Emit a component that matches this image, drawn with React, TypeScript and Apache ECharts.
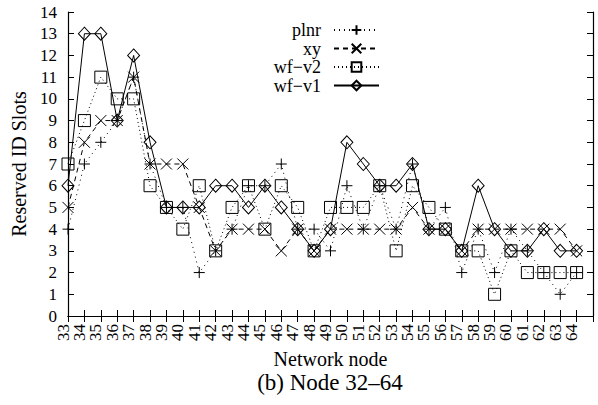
import React, { useEffect, useRef } from "react";
import * as echarts from "echarts";

const nodes = [33, 34, 35, 36, 37, 38, 39, 40, 41, 42, 43, 44, 45, 46, 47, 48, 49, 50, 51, 52, 53, 54, 55, 56, 57, 58, 59, 60, 61, 62, 63, 64];
const plnr = [4, 7, 8, 9, 11, 7, 5, 5, 2, 3, 4, 6, 6, 7, 4, 4, 3, 6, 4, 6, 4, 7, 4, 5, 2, 4, 2, 4, 3, 2, 1, 2];
const xy = [5, 8, 9, 9, 11, 7, 7, 7, 5, 3, 4, 4, 4, 3, 4, 3, 4, 4, 4, 4, 4, 5, 4, 4, 3, 4, 4, 4, 4, 4, 4, 3];
const wfv2 = [7, 9, 11, 10, 10, 6, 5, 4, 6, 3, 5, 6, 4, 6, 5, 3, 5, 5, 5, 6, 3, 6, 5, 4, 3, 3, 1, 3, 2, 2, 2, 2];
const wfv1 = [6, 13, 13, 9, 12, 8, 5, 5, 5, 6, 6, 5, 6, 5, 4, 3, 4, 8, 7, 6, 6, 7, 4, 4, 3, 6, 4, 3, 3, 4, 3, 3];
const seriesNames = ["plnr", "xy", "wf\u2212v2", "wf\u2212v1"];

const FONT = "'Liberation Serif', 'Times New Roman', serif";
const PLUS = "path://M0,5L10,5M5,0L5,10";
const CROSS = "path://M0,0L10,10M10,0L0,10";

export default function App() {
  const ref = useRef<HTMLDivElement>(null);
  useEffect(() => {
    if (!ref.current) return;
    const chart = echarts.init(ref.current, undefined, { renderer: "svg" });
    // x range runs one step past the last node (gnuplot xrange 33..65)
    const categories = [...nodes.map(String), ""];
    const mk = (name: string, vals: number[], symbol: string, size: number | number[], dash: any) => ({
      name,
      type: "line",
      xAxisIndex: 0,
      yAxisIndex: 0,
      data: vals,
      symbol,
      symbolSize: size,
      showAllSymbol: true,
      lineStyle: { color: "#000", width: 1, type: dash },
      itemStyle: { color: "transparent", borderColor: "#000", borderWidth: 1 },
      emphasis: { disabled: true },
      z: 2,
    });
    const axisCommon = {
      axisLine: { show: true, lineStyle: { color: "#000", width: 1.2 } },
      axisTick: { show: true, inside: true, length: 6, interval: 0, lineStyle: { color: "#000" } },
      splitLine: { show: false },
    };
    chart.setOption({
      animation: false,
      backgroundColor: "#fff",
      textStyle: { fontFamily: FONT, color: "#000" },
      title: {
        text: "(b) Node 32\u201364",
        left: 330,
        top: 370,
        textAlign: "center",
        padding: 0,
        textStyle: { fontFamily: FONT, fontSize: 23, lineHeight: 24, fontWeight: "normal", color: "#000" },
      },
      grid: { left: 68, right: 5, top: 12, bottom: 89 },
      legend: {
        orient: "vertical",
        right: 213,
        top: 16,
        align: "right",
        itemWidth: 45,
        itemHeight: 12,
        itemGap: 0.5,
        data: seriesNames,
        textStyle: { fontFamily: FONT, fontSize: 18, lineHeight: 15, color: "#000", padding: [0, 8, 0, 0] },
      },
      xAxis: [
        {
          type: "category",
          data: categories,
          boundaryGap: false,
          ...axisCommon,
          axisLabel: {
            interval: 0,
            rotate: 90,
            fontFamily: FONT,
            fontSize: 17,
            lineHeight: 10,
            verticalAlign: "bottom",
            color: "#000",
            margin: 8,
          },
          name: "Network node",
          nameLocation: "middle",
          nameGap: 31,
          nameTextStyle: { fontFamily: FONT, fontSize: 20, lineHeight: 20, color: "#000" },
        },
        {
          type: "category",
          data: categories,
          boundaryGap: false,
          position: "top",
          ...axisCommon,
          axisLabel: { show: false },
        },
      ],
      yAxis: [
        {
          type: "value",
          min: 0,
          max: 14,
          interval: 1,
          ...axisCommon,
          axisLabel: { fontFamily: FONT, fontSize: 17, color: "#000", margin: 11, showMinLabel: true, showMaxLabel: true },
          name: "Reserved ID Slots",
          nameLocation: "middle",
          nameGap: 34,
          nameTextStyle: { fontFamily: FONT, fontSize: 20, color: "#000" },
        },
        {
          type: "value",
          position: "right",
          min: 0,
          max: 14,
          interval: 1,
          ...axisCommon,
          axisLabel: { show: false },
        },
      ],
      series: [
        mk(seriesNames[0], plnr, PLUS, 11, [1, 4]),
        mk(seriesNames[1], xy, CROSS, 11, [5, 4]),
        mk(seriesNames[2], wfv2, "rect", 12, [1, 3]),
        mk(seriesNames[3], wfv1, "diamond", [12, 13], "solid"),
      ],
    });
    return () => chart.dispose();
  }, []);
  return <div ref={ref} style={{ width: 598, height: 405, position: "absolute", left: 0, top: 0 }} />;
}
